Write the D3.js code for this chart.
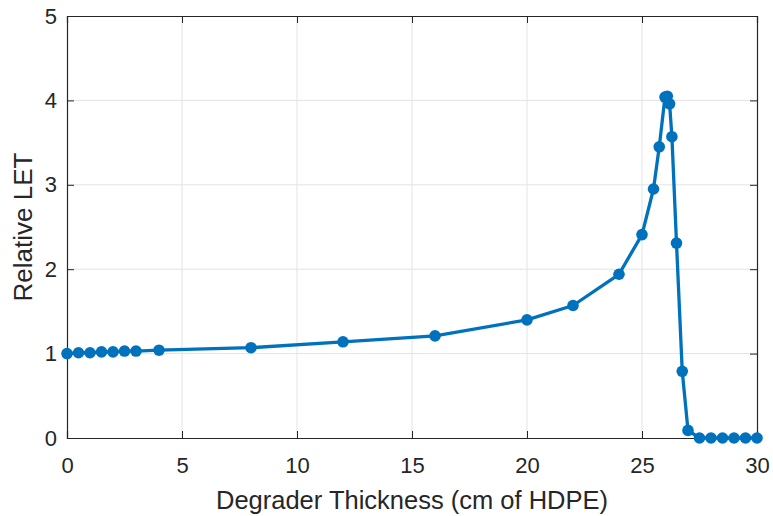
<!DOCTYPE html>
<html>
<head>
<meta charset="utf-8">
<script src="https://cdn.jsdelivr.net/npm/d3@7"></script>
<style>
  html, body { margin: 0; padding: 0; background: #fff; }
  svg { display: block; }
  text { font-family: "Liberation Sans", Arial, Helvetica, sans-serif; }
</style>
</head>
<body>
<svg id="chart" width="773" height="516"></svg>
<script>
// Degrader thickness (cm of HDPE) and relative LET
const thickness = [0, 0.5, 1, 1.5, 2, 2.5, 3, 4, 8, 12, 16, 20, 22, 24, 25, 25.5, 25.75, 26, 26.1, 26.2, 26.3, 26.5, 26.75, 27, 27.5, 28, 28.5, 29, 29.5, 30];
const relLET    = [1.0, 1.01, 1.01, 1.02, 1.02, 1.03, 1.03, 1.04, 1.07, 1.14, 1.21, 1.40, 1.57, 1.94, 2.41, 2.95, 3.45, 4.04, 4.05, 3.96, 3.57, 2.31, 0.79, 0.09, 0, 0, 0, 0, 0, 0];
const xTicks = [0, 5, 10, 15, 20, 25, 30];
const yTicks = [0, 1, 2, 3, 4, 5];
const xTitle = "Degrader Thickness (cm of HDPE)";
const yTitle = "Relative LET";

const svg = d3.select("#chart");
const m = { left: 67, right: 16, top: 16, bottom: 78 };
const W = 773, H = 516;
const x = d3.scaleLinear().domain([0, 30]).range([m.left, W - m.right]);
const y = d3.scaleLinear().domain([0, 5]).range([H - m.bottom, m.top]);

const axisColor = "#262626";
const gridColor = "#e3e3e3";

// grid
const grid = svg.append("g");
grid.selectAll(".gx").data(xTicks.slice(1, -1)).enter().append("line")
  .attr("x1", d => x(d)).attr("x2", d => x(d))
  .attr("y1", y(0)).attr("y2", y(5))
  .attr("stroke", gridColor).attr("stroke-width", 1);
grid.selectAll(".gy").data(yTicks.slice(1, -1)).enter().append("line")
  .attr("x1", x(0)).attr("x2", x(30))
  .attr("y1", d => y(d)).attr("y2", d => y(d))
  .attr("stroke", gridColor).attr("stroke-width", 1);

// axes (ticks inward)
const xAxis = d3.axisBottom(x).tickValues(xTicks).tickSize(-7).tickPadding(19).tickFormat(d3.format("d"));
const yAxis = d3.axisLeft(y).tickValues(yTicks).tickSize(-7).tickPadding(10).tickFormat(d3.format("d"));

const gx = svg.append("g").attr("transform", `translate(0,${y(0)})`).call(xAxis);
const gy = svg.append("g").attr("transform", `translate(${x(0)},0)`).call(yAxis);
[gx, gy].forEach(g => {
  g.select(".domain").attr("stroke", axisColor).attr("stroke-width", 1.2);
  g.selectAll(".tick line").attr("stroke", axisColor);
  g.selectAll(".tick text").attr("fill", axisColor).style("font-size", "22px");
});
gx.selectAll(".tick text").attr("dy", "0.71em");

// top & right box edges
const topAxis = d3.axisTop(x).tickValues(xTicks).tickSize(-7).tickFormat("");
const rightAxis = d3.axisRight(y).tickValues(yTicks).tickSize(-7).tickFormat("");
[svg.append("g").attr("transform", `translate(0,${y(5)})`).call(topAxis),
 svg.append("g").attr("transform", `translate(${x(30)},0)`).call(rightAxis)].forEach(g => {
  g.select(".domain").attr("stroke", axisColor).attr("stroke-width", 1.2);
  g.selectAll(".tick line").attr("stroke", axisColor);
});

// axis titles
svg.append("text")
  .attr("x", (x(0) + x(30)) / 2).attr("y", 509)
  .attr("text-anchor", "middle")
  .attr("fill", axisColor).style("font-size", "25.5px")
  .text(xTitle);
svg.append("text")
  .attr("transform", `translate(32,${(y(0) + y(5)) / 2}) rotate(-90)`)
  .attr("text-anchor", "middle")
  .attr("fill", axisColor).style("font-size", "26px")
  .text(yTitle);

// data line and markers
const pts = thickness.map((t, i) => [t, relLET[i]]);
const blue = "#0072BD";
svg.append("path")
  .datum(pts)
  .attr("fill", "none")
  .attr("stroke", blue)
  .attr("stroke-width", 3.3)
  .attr("stroke-linejoin", "round")
  .attr("d", d3.line().x(d => x(d[0])).y(d => y(d[1])));
svg.append("g").selectAll("circle").data(pts).enter().append("circle")
  .attr("cx", d => x(d[0])).attr("cy", d => y(d[1]))
  .attr("r", 5.8).attr("fill", blue);
</script>
</body>
</html>
